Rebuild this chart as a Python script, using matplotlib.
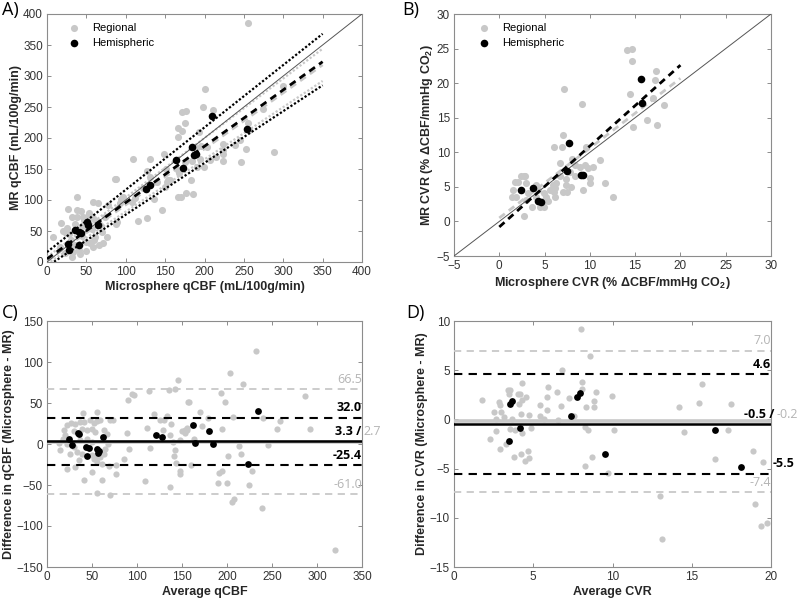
import numpy as np
import matplotlib
matplotlib.use('Agg')
import matplotlib.pyplot as plt

plt.rcParams['font.family'] = ['Liberation Sans', 'DejaVu Sans']
plt.rcParams['mathtext.fontset'] = 'custom'
plt.rcParams['mathtext.rm'] = 'Liberation Sans:bold'
plt.rcParams['mathtext.bf'] = 'Liberation Sans:bold'
plt.rcParams['mathtext.default'] = 'bf'

GRAY = '#c8c8c8'
TXT_GRAY = '#b4b4b4'

# ---------------- A) qCBF correlation ----------------
a_reg_x = [109.6, 130.8, 86.4, 38.5, 58.8, 65.2, 77.9, 27.1, 37.7, 43.2, 31.3, 38.5, 46.1, 17.8, 25.0,
           53.8, 58.8, 73.7, 87.6, 116.0, 126.6, 145.6, 50.4, 56.7, 75.8, 69.4, 71.5, 58.8, 49.5, 44.0,
           7.2, 16.5, 22.9, 33.4, 41.9, 31.3, 61.0, 67.3, 24.1, 166.8, 166.8, 154.1, 149.9, 130.8, 122.3,
           139.3, 111.8, 96.9, 92.7, 255.0, 200.0, 198.0, 171.0, 176.0, 211.0, 175.0, 166.0, 172.0, 166.0,
           193.0, 196.0, 203.0, 223.0, 224.0, 223.0, 246.0, 253.0, 288.0, 300.0, 274.0, 175.0, 183.0,
           186.0, 177.0, 170.0, 148.0, 136.0, 151.0, 156.0, 167.0, 190.0, 199.0, 207.0, 215.0, 239.0,
           245.0, 256.0, 223.0, 127.0, 108.0, 94.0, 89.0, 87.0, 255.7, 189.2, 183.7, 194.3, 152.8, 20.0,
           28.0, 35.0, 47.0, 52.0, 62.0, 40.0, 55.0, 30.0, 45.0, 60.0, 66.0, 36.0, 49.0]
a_reg_y = [165.6, 165.6, 133.3, 104.3, 97.3, 94.6, 91.9, 85.0, 83.9, 82.8, 72.0, 72.0, 72.0, 63.4, 54.3,
           78.5, 70.4, 72.0, 61.3, 66.7, 70.4, 83.9, 59.7, 52.7, 40.9, 48.9, 30.1, 24.7, 32.8, 41.9,
           39.8, 24.7, 15.1, 16.7, 12.9, 8.6, 39.8, 59.7, 46.2, 105.4, 148.4, 132.3, 121.5, 137.6, 118.8,
           129.6, 102.7, 105.4, 94.6, 385.0, 279.0, 250.0, 242.0, 244.0, 245.0, 224.0, 216.0, 212.0, 202.0,
           210.0, 187.0, 186.0, 191.0, 174.0, 163.0, 162.0, 183.0, 177.0, 284.0, 247.0, 162.0, 133.0,
           109.0, 112.0, 105.0, 174.0, 101.0, 150.0, 132.0, 143.0, 154.0, 154.0, 164.0, 170.0, 189.0,
           197.0, 213.0, 181.0, 147.0, 96.0, 101.0, 65.0, 134.0, 225.0, 183.4, 163.0, 166.0, 129.5, 50.0,
           45.0, 62.0, 68.0, 75.0, 66.0, 20.0, 30.0, 35.0, 58.0, 35.0, 28.0, 28.0, 18.0]
a_hem_x = [27, 28, 36, 41, 43, 41, 52, 51, 65, 126, 131, 164, 173, 184, 187, 189, 210, 254]
a_hem_y = [29, 19, 52, 49, 47, 28, 60, 64, 59, 117, 124, 164, 151, 185, 172, 174, 235, 215]
a_fit_x = [0, 350]
a_hem_fit = [5, 323]
a_reg_fit = [2, 318]
a_hem_loa_up = [16, 368]
a_hem_loa_lo = [-7, 285]
a_reg_loa_up = [8, 344]
a_reg_loa_lo = [-3, 292]

# ---------------- B) CVR correlation ----------------
b_reg_x = [14.1, 14.6, 14.7, 17.3, 17.2, 14.4, 18.2, 16.3, 17.4, 14.8, 17.0, 7.1, 9.1, 7.0, 6.0, 6.9, 9.6,
           11.1, 8.0, 8.4, 9.5, 9.8, 10.3, 8.9, 7.8, 7.4, 8.4, 10.0, 11.7, 12.6, 6.7, 6.3, 7.4, 7.0, 7.9,
           7.5, 9.2, 5.9, 6.2, 6.2, 5.2, 5.4, 4.9, 4.3, 3.6, 4.5, 4.9, 2.7, 2.4, 2.8, 2.1, 1.7, 3.0, 1.5,
           1.4, 1.9, 3.2, 3.0, 2.7, 4.0, 4.9, 4.0, 5.6, 6.7, 10.0, 6.0]
b_reg_y = [24.8, 25.0, 23.2, 21.7, 20.4, 18.5, 16.8, 14.7, 13.9, 13.6, 17.8, 19.2, 17.0, 12.5, 10.7, 10.7,
           10.7, 8.9, 9.1, 8.2, 8.2, 7.7, 7.8, 7.9, 7.2, 6.2, 6.5, 6.3, 5.5, 3.6, 6.6, 5.5, 5.3, 4.3, 5.0,
           4.3, 4.5, 5.3, 3.6, 4.8, 3.6, 2.9, 2.9, 4.5, 2.1, 2.1, 2.1, 6.5, 6.6, 6.6, 5.7, 5.7, 5.5, 4.5,
           3.6, 3.6, 4.1, 3.1, 0.8, 3.6, 4.1, 5.3, 4.5, 8.4, 5.5, 4.3]
b_hem_x = [2.4, 3.7, 4.3, 4.6, 7.5, 7.7, 9.0, 9.2, 15.7, 15.8]
b_hem_y = [4.6, 4.8, 2.9, 2.8, 7.3, 11.3, 6.7, 6.7, 20.6, 17.1]
b_fit_x = [0, 20]
b_hem_fit = [-0.8, 22.6]
b_reg_fit = [0.5, 20.7]

# ---------------- C) qCBF Bland-Altman ----------------
c_reg_x = [146.0, 142.2, 157.0, 113.4, 135.6, 89.8, 97.2, 94.2, 39.9, 56.1, 73.1, 89.4, 91.6, 85.0, 76.8,
           76.8, 69.4, 70.2, 56.1, 61.3, 50.2, 40.6, 22.1, 12.9, 109.3, 114.5, 119.0, 111.6, 125.6, 128.6,
           136.7, 137.8, 139.6, 141.1, 142.2, 136.7, 143.3, 147.8, 153.3, 155.2, 133.0, 130.0, 147.8,
           18.4, 22.1, 26.6, 31.4, 36.2, 40.6, 48.0, 51.7, 55.4, 59.1, 20.3, 17.7, 29.5, 38.8, 44.3, 49.9,
           53.5, 22.1, 29.5, 33.2, 38.8, 49.9, 53.5, 59.1, 62.8, 64.6, 68.3, 36.9, 44.3, 49.9, 51.7, 55.4,
           60.9, 31.4, 35.1, 25.8, 14.7, 66.5, 70.2, 62.8,
           232.4, 203.6, 218.0, 192.9, 198.0, 157.4, 170.3, 179.2, 206.9, 149.6, 155.9, 153.3, 172.2,
           194.0, 163.3, 240.2, 259.4, 255.0, 286.4, 291.9, 245.0, 213.6, 215.4, 201.4, 160.0, 147.8,
           191.0, 194.0, 228.0, 189.6, 199.5, 224.0, 207.7, 205.1, 238.7, 320.0]
c_reg_y = [78.5, 67.5, 50.8, 64.3, 66.3, 53.3, 59.4, 61.4, 37.8, 39.1, 28.9, 13.9, -5.7, -17.9, -26.0,
           -36.1, -26.8, -62.6, -59.7, -44.3, -34.1, -43.5, -30.1, 1.3, -45.0, -4.4, 37.0, 19.9, 28.9, 16.7,
           10.6, 24.8, 2.5, -15.0, -7.7, -52.8, -23.1, -37.0, 16.7, 19.9, 34.6, 29.7, 4.5,
           16.7, 22.8, 25.6, 24.8, 26.9, 26.9, 28.9, 25.6, 27.7, 29.7, 10.6, 6.5, 15.9, 18.7, 16.7, 18.7,
           14.7, 0.5, -3.6, -9.7, -11.8, -13.8, -16.6, -15.8, -11.8, -5.7, 0.5, 4.5, 6.5, 2.5, -17.9, -21.9,
           -24.0, -28.0, -19.9, -11.8, -7.7, 12.6, 28.9, 16.7,
           113.0, 86.2, 73.6, 62.2, 51.7, 50.8, 38.6, 32.1, 32.6, 15.9, 16.7, 13.5, 21.6,
           18.3, 6.1, 32.1, 28.1, 18.3, 58.2, 18.3, -0.8, -2.0, -11.8, -15.0, -26.0, -33.3,
           -34.9, -32.5, -32.5, -48.0, -47.5, -50.0, -67.4, -70.7, -77.6, -128.8]
c_hem_x = [24.7, 27.7, 34.3, 35.1, 43.6, 46.9, 44.3, 55.4, 57.2, 57.6, 62.0, 121.2, 127.5,
           161.8, 164.1, 180.0, 184.4, 222.8, 234.3]
c_hem_y = [6.1, -1.6, 13.4, 12.2, -3.6, -4.8, -15.0, -5.7, -11.0, -8.9, 8.2, 10.6, 8.2,
           23.6, 1.2, 16.3, -0.4, -24.4, 40.3]
c_hem_bias, c_reg_bias = 3.3, 2.7
c_hem_loa = [32.0, -25.4]
c_reg_loa = [66.5, -61.0]

# ---------------- D) CVR Bland-Altman ----------------
d_reg_x = [8.01, 8.58, 6.79, 4.32, 8.09, 5.9, 6.51, 8.98, 9.95, 3.42, 3.46, 4.05, 4.15, 4.57, 4.26, 1.77,
           2.83, 2.89, 5.84, 5.42, 6.74, 7.27, 8.05, 8.32, 8.85, 8.85, 5.86, 2.53, 2.95, 3.16, 2.68, 3.69,
           4.22, 4.72, 5.44, 5.65, 6.53, 7.59, 8.26, 8.47, 10.07, 4.85, 4.3, 3.84, 3.52, 2.68, 2.3, 3.31,
           2.89, 3.79, 4.22, 4.64, 4.72, 4.47, 8.26, 8.72, 9.74, 4.07, 3.52,
           15.64, 15.47, 14.21, 17.49, 14.48, 17.26, 16.48, 18.84, 19.47, 13.0, 18.97, 19.39, 19.77, 13.15]
d_reg_y = [9.22, 6.41, 4.99, 3.7, 3.77, 3.3, 2.79, 2.79, 2.38, 2.96, 2.55, 2.62, 2.55, 2.28, 2.01, 1.94,
           1.77, 1.43, 2.28, 1.43, 1.33, 2.14, 3.13, 1.26, 1.87, 1.26, 0.92, 0.75, 0.75, 0.25, 0.08, 0.08,
           0.58, 0.48, 0.31, 0.08, -0.09, 0.31, -0.77, -1.04, -1.04, -0.87, -1.38, -1.11, -1.01, -1.21,
           -1.96, -2.46, -2.97, -3.82, -3.55, -3.24, -3.89, -4.26, -4.73, -3.82, -5.41, 1.53, 3.03,
           3.63, 1.67, 1.26, 1.53, -1.28, -1.11, -3.99, -3.21, -4.33, -7.78, -8.56, -10.86, -10.5, -12.18]
d_hem_x = [3.52, 3.69, 4.19, 3.46, 7.38, 7.73, 7.95, 9.5, 16.44, 18.12]
d_hem_y = [1.53, 1.84, -0.87, -2.2, 0.35, 2.28, 2.68, -3.55, -1.11, -4.84]
d_hem_bias, d_reg_bias = -0.5, -0.2
d_hem_loa = [4.6, -5.5]
d_reg_loa = [7.0, -7.4]


def style_axes(ax):
    for s in ax.spines.values():
        s.set_color('#8c8c8c')
        s.set_linewidth(0.8)
    ax.tick_params(direction='in', top=True, right=True, length=3, width=0.7,
                   color='#8c8c8c', labelsize=8.5, labelcolor='#333333', pad=3)


def label_font(ax, xl, yl):
    ax.set_xlabel(xl, fontsize=9, fontweight='bold', color='#262626', labelpad=2)
    ax.set_ylabel(yl, fontsize=9, fontweight='bold', color='#262626', labelpad=1)


fig = plt.figure(figsize=(8, 6.03), dpi=100)
W, H = 800, 603


def add_ax(l, t, r, b):
    return fig.add_axes([l / W, 1 - b / H, (r - l) / W, (b - t) / H])


axA = add_ax(47, 14, 362, 262)
axB = add_ax(454, 14, 771, 256)
axC = add_ax(47, 321, 362, 567)
axD = add_ax(454, 321, 771, 567)

# A
axA.scatter(a_reg_x, a_reg_y, s=26, c=GRAY, linewidths=0, label='Regional', zorder=2)
axA.plot(a_fit_x, a_reg_loa_up, color=GRAY, lw=1.6, ls=(0, (1, 0.9)), zorder=3)
axA.plot(a_fit_x, a_reg_loa_lo, color=GRAY, lw=1.6, ls=(0, (1, 0.9)), zorder=3)
axA.plot(a_fit_x, a_reg_fit, color=GRAY, lw=2, ls=(0, (2.5, 1.8)), zorder=3)
axA.plot([0, 400], [0, 400], color='#555555', lw=0.7, zorder=3)
axA.plot(a_fit_x, a_hem_loa_up, color='black', lw=1.6, ls=(0, (1, 0.9)), zorder=4)
axA.plot(a_fit_x, a_hem_loa_lo, color='black', lw=1.6, ls=(0, (1, 0.9)), zorder=4)
axA.plot(a_fit_x, a_hem_fit, color='black', lw=2, ls=(0, (2.5, 1.8)), zorder=4)
axA.scatter(a_hem_x, a_hem_y, s=30, c='black', linewidths=0, label='Hemispheric', zorder=5)
axA.set_xlim(0, 400)
axA.set_ylim(0, 400)
axA.set_xticks(np.arange(0, 401, 50))
axA.set_yticks(np.arange(0, 401, 50))
label_font(axA, 'Microsphere qCBF (mL/100g/min)', 'MR qCBF (mL/100g/min)')
axA.legend(loc='upper left', bbox_to_anchor=(0.03, 0.99), frameon=False, fontsize=8,
           handletextpad=0.6, borderaxespad=0.2, labelspacing=0.4, scatterpoints=1)

# B
axB.scatter(b_reg_x, b_reg_y, s=26, c=GRAY, linewidths=0, label='Regional', zorder=2)
axB.plot(b_fit_x, b_reg_fit, color=GRAY, lw=2, ls=(0, (2.5, 1.8)), zorder=3)
axB.plot([-5, 30], [-5, 30], color='#555555', lw=0.7, zorder=3)
axB.plot(b_fit_x, b_hem_fit, color='black', lw=2, ls=(0, (2.5, 1.8)), zorder=4)
axB.scatter(b_hem_x, b_hem_y, s=30, c='black', linewidths=0, label='Hemispheric', zorder=5)
axB.set_xlim(-5, 30)
axB.set_ylim(-5, 30)
axB.set_xticks(np.arange(-5, 31, 5))
axB.set_yticks(np.arange(-5, 31, 5))
label_font(axB, 'Microsphere CVR (% \u0394CBF/mmHg CO$_2$)', 'MR CVR (% \u0394CBF/mmHg CO$_2$)')
axB.legend(loc='upper left', bbox_to_anchor=(0.04, 0.99), frameon=False, fontsize=8,
           handletextpad=0.6, borderaxespad=0.2, labelspacing=0.4, scatterpoints=1)

# C
axC.scatter(c_reg_x, c_reg_y, s=20, c=GRAY, linewidths=0, zorder=2)
for v in c_reg_loa:
    axC.axhline(v, color=GRAY, lw=1.3, ls=(0, (4, 3)), zorder=3)
axC.axhline(c_reg_bias, color=GRAY, lw=2.6, zorder=3)
for v in c_hem_loa:
    axC.axhline(v, color='black', lw=1.5, ls=(0, (4, 3)), zorder=4)
axC.axhline(c_hem_bias, color='black', lw=1.8, zorder=4)
axC.scatter(c_hem_x, c_hem_y, s=24, c='black', linewidths=0, zorder=5)
axC.set_xlim(0, 350)
axC.set_ylim(-150, 150)
axC.set_xticks(np.arange(0, 351, 50))
axC.set_yticks(np.arange(-150, 151, 50))
label_font(axC, 'Average qCBF', 'Difference in qCBF (Microsphere - MR)')
lf = dict(fontsize=9, family=['Open Sans', 'DejaVu Sans'], clip_on=False)
axC.text(350, c_reg_loa[0] + 4, '%.1f' % c_reg_loa[0], ha='right', va='bottom', color=TXT_GRAY, **lf)
axC.text(350, c_hem_loa[0] + 4, '%.1f' % c_hem_loa[0], ha='right', va='bottom', color='black',
         fontweight='bold', **lf)
axC.text(349, c_hem_bias + 4, '%.1f /' % c_hem_bias, ha='right', va='bottom', color='black',
         fontweight='bold', **lf)
axC.text(352, c_hem_bias + 4, '%.1f' % c_reg_bias, ha='left', va='bottom', color=TXT_GRAY, **lf)
axC.text(350, c_hem_loa[1] + 4, '%.1f' % c_hem_loa[1], ha='right', va='bottom', color='black',
         fontweight='bold', **lf)
axC.text(350, c_reg_loa[1] + 4, '%.1f' % c_reg_loa[1], ha='right', va='bottom', color=TXT_GRAY, **lf)

# D
axD.scatter(d_reg_x, d_reg_y, s=20, c=GRAY, linewidths=0, zorder=2)
for v in d_reg_loa:
    axD.axhline(v, color=GRAY, lw=1.3, ls=(0, (4, 3)), zorder=3)
axD.axhline(d_reg_bias, color=GRAY, lw=2.6, zorder=3)
for v in d_hem_loa:
    axD.axhline(v, color='black', lw=1.5, ls=(0, (4, 3)), zorder=4)
axD.axhline(d_hem_bias, color='black', lw=1.8, zorder=4)
axD.scatter(d_hem_x, d_hem_y, s=24, c='black', linewidths=0, zorder=5)
axD.set_xlim(0, 20)
axD.set_ylim(-15, 10)
axD.set_xticks(np.arange(0, 21, 5))
axD.set_yticks(np.arange(-15, 11, 5))
label_font(axD, 'Average CVR', 'Difference in CVR (Microsphere - MR)')
axD.text(20, d_reg_loa[0] + 0.35, '%.1f' % d_reg_loa[0], ha='right', va='bottom', color=TXT_GRAY, **lf)
axD.text(20, d_hem_loa[0] + 0.35, '%.1f' % d_hem_loa[0], ha='right', va='bottom', color='black',
         fontweight='bold', **lf)
axD.text(20.2, d_hem_bias + 0.35, '%.1f /' % d_hem_bias, ha='right', va='bottom', color='black',
         fontweight='bold', **lf)
axD.text(20.35, d_hem_bias + 0.35, '%.1f' % d_reg_bias, ha='left', va='bottom', color=TXT_GRAY, **lf)
axD.text(20.1, d_hem_loa[1] + 0.35, '%.1f' % d_hem_loa[1], ha='left', va='bottom', color='black',
         fontweight='bold', **lf)
axD.text(20, d_reg_loa[1] + 0.35, '%.1f' % d_reg_loa[1], ha='right', va='bottom', color=TXT_GRAY, **lf)

for ax in (axA, axB, axC, axD):
    style_axes(ax)

pf = dict(fontsize=13, family=['Open Sans', 'DejaVu Sans'], va='top', ha='left')
fig.text(2 / W, 1 - 1 / H, 'A)', **pf)
fig.text(402 / W, 1 - 1 / H, 'B)', **pf)
fig.text(2 / W, 1 - 304 / H, 'C)', **pf)
fig.text(406 / W, 1 - 304 / H, 'D)', **pf)

fig.savefig('out.png', dpi=100)
